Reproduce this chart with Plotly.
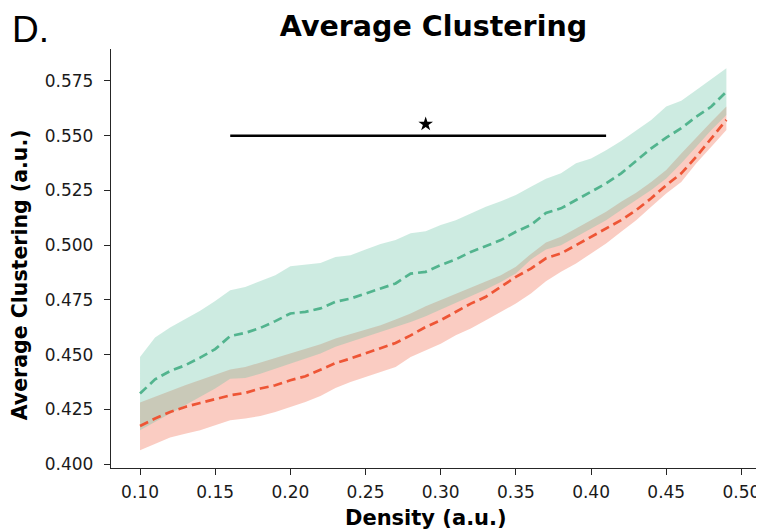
import plotly.graph_objects as go

# density levels
density = [0.10, 0.11, 0.12, 0.13, 0.14, 0.15, 0.16, 0.17, 0.18, 0.19,
           0.20, 0.21, 0.22, 0.23, 0.24, 0.25, 0.26, 0.27, 0.28, 0.29,
           0.30, 0.31, 0.32, 0.33, 0.34, 0.35, 0.36, 0.37, 0.38, 0.39,
           0.40, 0.41, 0.42, 0.43, 0.44, 0.45, 0.46, 0.47, 0.48, 0.49]

# green group: mean and band edges
green_mean = [0.4322, 0.4387, 0.4425, 0.4451, 0.4486, 0.4525, 0.4585, 0.4599, 0.4622, 0.4653,
              0.4688, 0.4695, 0.4711, 0.4741, 0.4756, 0.4779, 0.4802, 0.4825, 0.4870, 0.4878,
              0.4909, 0.4935, 0.4969, 0.4995, 0.5023, 0.5061, 0.5092, 0.5147, 0.5168, 0.5206,
              0.5244, 0.5282, 0.5328, 0.5385, 0.5442, 0.5491, 0.5534, 0.5587, 0.5633, 0.5701]
green_upper = [0.4489, 0.4578, 0.4624, 0.4662, 0.4700, 0.4745, 0.4794, 0.4809, 0.4837, 0.4863,
               0.4904, 0.4910, 0.4919, 0.4946, 0.4954, 0.4980, 0.5005, 0.5023, 0.5054, 0.5064,
               0.5092, 0.5114, 0.5145, 0.5175, 0.5201, 0.5229, 0.5267, 0.5303, 0.5328, 0.5374,
               0.5396, 0.5434, 0.5476, 0.5526, 0.5572, 0.5633, 0.5660, 0.5709, 0.5758, 0.5808]
green_lower = [0.4154, 0.4192, 0.4230, 0.4268, 0.4306, 0.4345, 0.4390, 0.4393, 0.4413, 0.4436,
               0.4459, 0.4482, 0.4505, 0.4536, 0.4558, 0.4581, 0.4604, 0.4626, 0.4649, 0.4675,
               0.4706, 0.4736, 0.4767, 0.4797, 0.4832, 0.4871, 0.4935, 0.4980, 0.5000, 0.5038,
               0.5076, 0.5114, 0.5160, 0.5206, 0.5252, 0.5305, 0.5374, 0.5450, 0.5526, 0.5595]

# red group: mean and band edges
red_mean = [0.4174, 0.4208, 0.4238, 0.4261, 0.4279, 0.4296, 0.4314, 0.4325, 0.4345, 0.4360,
            0.4383, 0.4401, 0.4432, 0.4461, 0.4482, 0.4505, 0.4528, 0.4553, 0.4588, 0.4626,
            0.4657, 0.4695, 0.4733, 0.4764, 0.4809, 0.4855, 0.4893, 0.4940, 0.4962, 0.5000,
            0.5038, 0.5076, 0.5114, 0.5160, 0.5214, 0.5274, 0.5328, 0.5404, 0.5488, 0.5572]
red_upper = [0.4281, 0.4306, 0.4334, 0.4360, 0.4383, 0.4406, 0.4432, 0.4443, 0.4464, 0.4485,
             0.4505, 0.4524, 0.4547, 0.4573, 0.4593, 0.4614, 0.4634, 0.4660, 0.4688, 0.4721,
             0.4749, 0.4776, 0.4807, 0.4832, 0.4863, 0.4901, 0.4960, 0.5012, 0.5038, 0.5076,
             0.5114, 0.5152, 0.5198, 0.5239, 0.5289, 0.5343, 0.5419, 0.5493, 0.5564, 0.5633]
red_lower = [0.4063, 0.4093, 0.4121, 0.4139, 0.4154, 0.4177, 0.4200, 0.4208, 0.4220, 0.4238,
             0.4261, 0.4283, 0.4311, 0.4348, 0.4375, 0.4398, 0.4421, 0.4443, 0.4489, 0.4520,
             0.4550, 0.4588, 0.4619, 0.4657, 0.4695, 0.4733, 0.4779, 0.4835, 0.4878, 0.4916,
             0.4962, 0.5008, 0.5061, 0.5114, 0.5175, 0.5236, 0.5289, 0.5374, 0.5450, 0.5526]

# significance bar
sig_x = [0.16, 0.41]
sig_y = [0.550, 0.550]
star_x = [0.29]
star_y = [0.5553]

x_ticks = [0.10, 0.15, 0.20, 0.25, 0.30, 0.35, 0.40, 0.45, 0.50]
y_ticks = [0.400, 0.425, 0.450, 0.475, 0.500, 0.525, 0.550, 0.575]

GREEN = "#52b48e"
RED = "#ee5535"
FONT = "DejaVu Sans"

fig = go.Figure()

# red band
fig.add_trace(go.Scatter(x=density, y=red_upper, mode="lines",
                         line=dict(width=0), showlegend=False, hoverinfo="skip"))
fig.add_trace(go.Scatter(x=density, y=red_lower, mode="lines", fill="tonexty",
                         fillcolor="rgba(238,85,53,0.30)",
                         line=dict(width=0), showlegend=False, hoverinfo="skip"))
# green band
fig.add_trace(go.Scatter(x=density, y=green_upper, mode="lines",
                         line=dict(width=0), showlegend=False, hoverinfo="skip"))
fig.add_trace(go.Scatter(x=density, y=green_lower, mode="lines", fill="tonexty",
                         fillcolor="rgba(102,194,165,0.33)",
                         line=dict(width=0), showlegend=False, hoverinfo="skip"))

# means
fig.add_trace(go.Scatter(x=density, y=green_mean, mode="lines",
                         line=dict(color=GREEN, width=2.7, dash="9px,5px"),
                         showlegend=False))
fig.add_trace(go.Scatter(x=density, y=red_mean, mode="lines",
                         line=dict(color=RED, width=2.7, dash="9px,5px"),
                         showlegend=False))

# significance bar + star
fig.add_trace(go.Scatter(x=sig_x, y=sig_y, mode="lines",
                         line=dict(color="black", width=2.6), showlegend=False))
fig.add_trace(go.Scatter(x=star_x, y=star_y, mode="markers",
                         marker=dict(symbol="star", size=11, color="black"),
                         showlegend=False))

axis_common = dict(
    showline=True, linecolor="#262626", linewidth=1.4,
    ticks="outside", ticklen=6, tickwidth=1.4, tickcolor="#262626",
    showgrid=False, zeroline=False,
    tickfont=dict(family=FONT, size=17, color="#1a1a1a"),
)

# page body adds an 8px margin, so the margins are shifted to compensate
fig.update_layout(
    width=764, height=532,
    margin=dict(l=103, r=16, t=41, b=72),
    plot_bgcolor="white", paper_bgcolor="white",
    title=dict(text="<b>Average Clustering</b>", x=0.5, xref="paper", xanchor="center",
               y=0.966, yanchor="middle", yref="container",
               font=dict(family=FONT, size=28.5, color="black")),
    xaxis=dict(range=[0.0807, 0.5097], tickvals=x_ticks, tickformat=".2f",
               ticklabelstandoff=2, **axis_common),
    yaxis=dict(range=[0.3982, 0.5896], tickvals=y_ticks, tickformat=".3f",
               ticklabelstandoff=7, **axis_common),
    annotations=[
        dict(text="D.", x=-0.156, y=1.047, xref="paper", yref="paper",
             xanchor="left", yanchor="middle", showarrow=False,
             font=dict(family="Liberation Sans", size=37, color="black")),
        dict(text="<b>Density (a.u.)</b>", x=0.488, y=-0.12, xref="paper", yref="paper",
             xanchor="center", yanchor="middle", showarrow=False,
             font=dict(family=FONT, size=21, color="black")),
        dict(text="<b>Average Clustering (a.u.)</b>", x=-0.141, y=0.46,
             xref="paper", yref="paper", textangle=-90,
             xanchor="center", yanchor="middle", showarrow=False,
             font=dict(family=FONT, size=20.5, color="black")),
    ],
)

fig.write_html("out.html")
